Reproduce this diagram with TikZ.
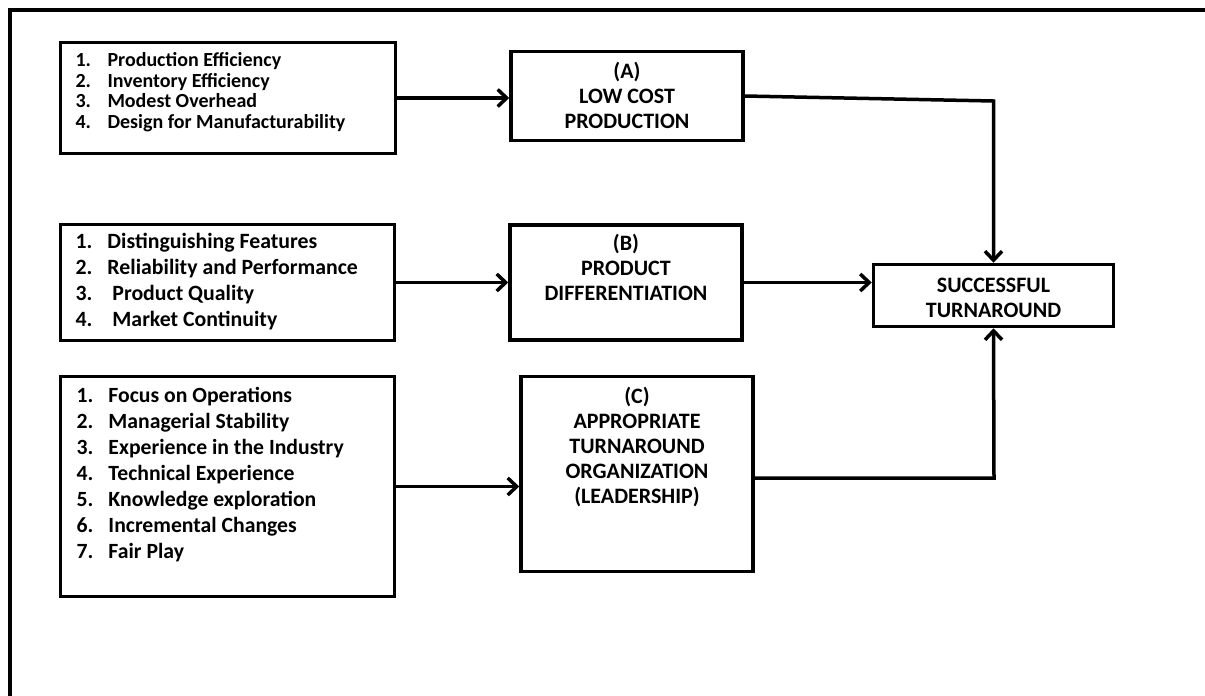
\documentclass[tikz,border=0pt]{standalone}
\usepackage{fontspec}
\setmainfont{Carlito}
\usetikzlibrary{arrows.meta,positioning}

\tikzset{
  box/.style={draw, line width=3.5pt, inner sep=0pt, align=center},
  listbox/.style={box, font=\bfseries\fontsize{20}{20.7}\selectfont},
  stepbox/.style={box, minimum width=232pt, font=\bfseries\fontsize{22}{25}\selectfont},
  link/.style={line width=3.5pt, -{Straight Barb[length=9pt,width=17pt]}},
  frameline/.style={line width=3.5pt}
}

\begin{document}
\begin{tikzpicture}[x=1pt, y=-1pt]
  \useasboundingbox (0,0) rectangle (1205,696);

  % outer frame
  \draw[frameline] (8,10) -- (1205,10);
  \draw[frameline] (10,8) -- (10,696);

  % factor lists
  \node[listbox, minimum width=335pt, minimum height=111pt] (prodlist) at (228,98)
    {\begin{tabular}{@{}p{32pt}@{}p{273pt}@{}}
      1. & Production Efficiency\\
      2. & Inventory Efficiency\\
      3. & Modest Overhead\\
      4. & Design for Manufacturability\\[9pt]
    \end{tabular}};
  \node[listbox, minimum width=334pt, minimum height=116pt,
        font=\bfseries\fontsize{21.8}{26}\selectfont] (difflist) at (227.5,282.5)
    {\begin{tabular}{@{}p{32pt}@{}p{272pt}@{}}
      1. & Distinguishing Features\\
      2. & Reliability and Performance\\
      3. & \ Product Quality\\
      4. & \ Market Continuity
    \end{tabular}};
  \node[listbox, minimum width=334pt, minimum height=220pt,
        font=\bfseries\fontsize{21.7}{26}\selectfont] (orglist) at (227.5,486.5)
    {\begin{tabular}{@{}p{32pt}@{}p{270pt}@{}}
      1. & Focus on Operations\\
      2. & Managerial Stability\\
      3. & Experience in the Industry\\
      4. & Technical Experience\\
      5. & Knowledge exploration\\
      6. & Incremental Changes\\
      7. & Fair Play\\[23pt]
    \end{tabular}};

  % strategy boxes
  \node[stepbox, minimum height=89pt, right=112pt of prodlist, yshift=2pt] (lowcost)
    {\begin{tabular}{c}\rule{0pt}{22.5pt}(A)\\LOW COST\\PRODUCTION\end{tabular}};
  \node[stepbox, minimum height=115pt, right=112pt of difflist] (diff)
    {\begin{tabular}{c}(B)\\PRODUCT\\DIFFERENTIATION\\[24pt]\end{tabular}};
  \node[stepbox, minimum height=195pt, right=123pt of orglist, yshift=12.5pt] (org)
    {\begin{tabular}{c}(C)\\APPROPRIATE\\TURNAROUND\\ORGANIZATION\\(LEADERSHIP)\\[52pt]\end{tabular}};

  \node[stepbox, minimum width=240pt, minimum height=62pt] (success) at (993.5,295.5)
    {\begin{tabular}{c}\rule{0pt}{25.5pt}SUCCESSFUL\\TURNAROUND\end{tabular}};

  % connectors
  \coordinate (kA) at (993.5,101);
  \coordinate (kC) at (994,478);
  \draw[link] (prodlist.east) -- (prodlist.east -| lowcost.west);
  \draw[link] (difflist.east) -- (difflist.east -| diff.west);
  \draw[link] (orglist.east) -- (orglist.east -| org.west);
  \draw[link] (lowcost.east) -- (kA) -- (success.north);
  \draw[link] (diff.east) -- (diff.east -| success.west);
  \draw[link] (org.east |- kC) -- (kC) -- (success.south);
\end{tikzpicture}
\end{document}
